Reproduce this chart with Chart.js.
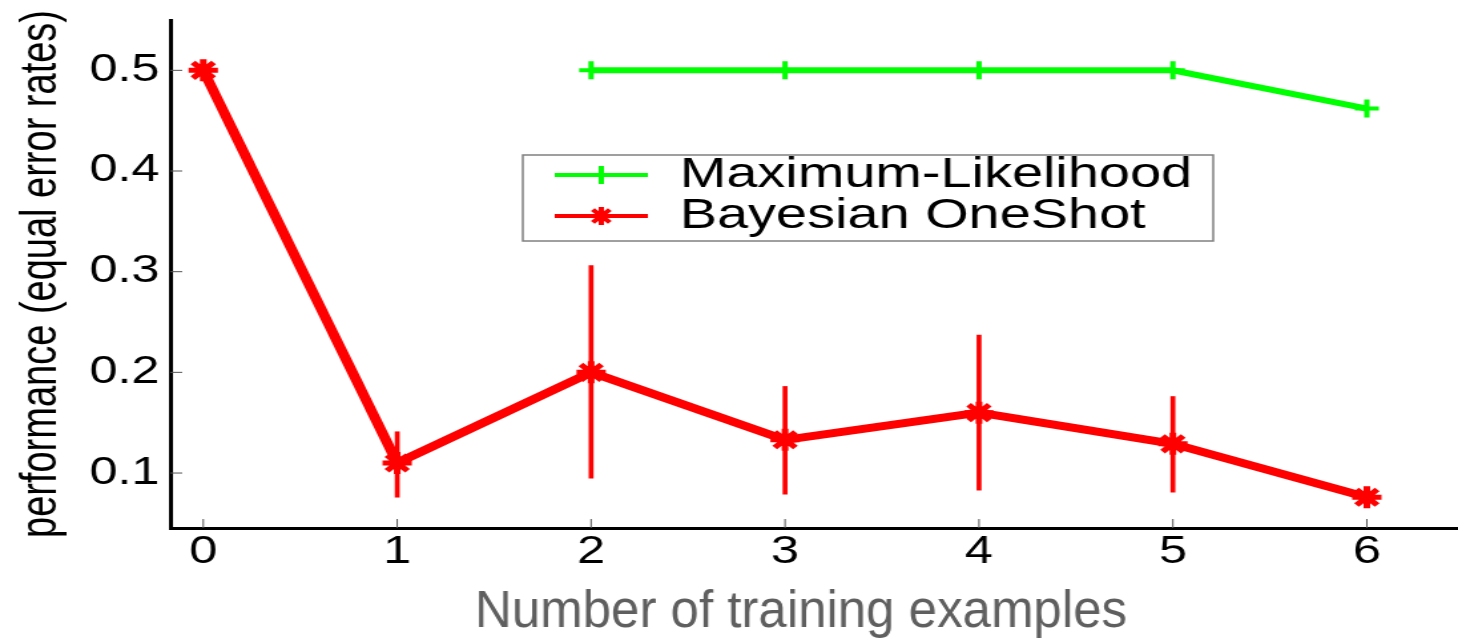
<!DOCTYPE html>
<html lang="en">
<head>
<meta charset="utf-8">
<title>Number of training examples</title>
<script src="https://cdn.jsdelivr.net/npm/chart.js@4/dist/chart.umd.min.js"></script>
<style>
    html, body { margin: 0; padding: 0; background: #ffffff; }
    /* Chart.js writes an inline size, so force the sideways stretch */
    #perfChart { display: block; width: 1458px !important; height: 640px !important; }
</style>
</head>
<body>
<canvas id="perfChart" width="1096" height="640"></canvas>
<script>
// values
const trainingExamples = [0, 1, 2, 3, 4, 5, 6];
const maxLikelihood = [null, null, 0.5, 0.5, 0.5, 0.5, 0.462];
const bayesianOneShot = [0.5, 0.11, 0.2, 0.133, 0.16, 0.129, 0.076];
const bayesianLow = [null, 0.076, 0.095, 0.079, 0.083, 0.081, null];
const bayesianHigh = [null, 0.141, 0.306, 0.186, 0.237, 0.176, null];
const xTicks = [0, 1, 2, 3, 4, 5, 6];
const yTicks = [0.1, 0.2, 0.3, 0.4, 0.5];

const seriesNames = ['Maximum-Likelihood', 'Bayesian OneShot'];
const xTitle = 'Number of training examples';
const yTitle = 'performance (equal error rates)';

// the old figure is stretched sideways: draw narrow, widen with CSS
const STRETCH = 1458 / 1096;
const FONT = '"Liberation Sans", Arial, Helvetica, sans-serif';

document.addEventListener('DOMContentLoaded', function() {
    renderChart();
});

function toPoints(values) {
    return trainingExamples
        .map((x, i) => ({ x: x, y: values[i] }))
        .filter(p => p.y !== null);
}

function toErrorBars(low, high) {
    return trainingExamples
        .map((x, i) => ({ x: x, y: [low[i], high[i]] }))
        .filter(p => p.y[0] !== null);
}

/**
 * white page behind everything
 */
const whiteBackground = {
    id: 'whiteBackground',
    beforeDraw(chart) {
        const ctx = chart.ctx;
        ctx.save();
        ctx.fillStyle = '#ffffff';
        ctx.fillRect(0, 0, chart.width, chart.height);
        ctx.restore();
    }
};

/**
 * small tick marks pointing into the plot
 */
const innerTicks = {
    id: 'innerTicks',
    afterDatasetsDraw(chart) {
        const ctx = chart.ctx;
        const area = chart.chartArea;
        const x = chart.scales.x;
        const y = chart.scales.y;
        ctx.save();
        ctx.strokeStyle = '#555555';
        ctx.lineWidth = 1;
        ctx.beginPath();
        yTicks.forEach(v => {
            const py = y.getPixelForValue(v);
            ctx.moveTo(area.left, py);
            ctx.lineTo(area.left + 9, py);
        });
        xTicks.forEach(v => {
            const px = x.getPixelForValue(v);
            ctx.moveTo(px, area.bottom);
            ctx.lineTo(px, area.bottom - 9);
        });
        ctx.stroke();
        ctx.restore();
    }
};

/**
 * boxed legend inside the plot, like the original
 */
const figureLegend = {
    id: 'figureLegend',
    afterDraw(chart) {
        const ctx = chart.ctx;
        const box = { left: 393, top: 155, width: 519, height: 86 };
        const rows = [175, 216];

        ctx.save();
        ctx.fillStyle = '#ffffff';
        ctx.fillRect(box.left, box.top, box.width, box.height);
        ctx.strokeStyle = '#808080';
        ctx.lineWidth = 1.5;
        ctx.strokeRect(box.left, box.top, box.width, box.height);

        chart.data.datasets
            .filter(ds => !ds.isErrorBar)
            .forEach((ds, i) => {
                const cy = rows[i];
                ctx.strokeStyle = ds.borderColor;
                ctx.fillStyle = ds.borderColor;
                ctx.lineWidth = 4;
                ctx.beginPath();
                ctx.moveTo(417, cy);
                ctx.lineTo(487, cy);
                ctx.stroke();

                Chart.helpers.drawPoint(ctx, {
                    pointStyle: ds.pointStyle,
                    radius: 9,
                    rotation: 0,
                    borderWidth: 4
                }, 452, cy);

                ctx.fillStyle = '#000000';
                ctx.font = '42px ' + FONT;
                ctx.textAlign = 'left';
                ctx.textBaseline = 'middle';
                ctx.fillText(ds.label, 511, cy);
            });
        ctx.restore();
    }
};

/**
 * x title was added later without the stretch, so undo it here
 */
const plainXTitle = {
    id: 'plainXTitle',
    afterDraw(chart) {
        const ctx = chart.ctx;
        ctx.save();
        ctx.scale(1 / STRETCH, 1);
        ctx.fillStyle = '#5f5f5f';
        ctx.font = '51px ' + FONT;
        ctx.textAlign = 'center';
        ctx.textBaseline = 'alphabetic';
        ctx.fillText(xTitle, 801, 627);
        ctx.restore();
    }
};

function renderChart() {
    const canvas = document.getElementById('perfChart');

    new Chart(canvas, {
        type: 'line',
        data: {
            datasets: [
                {
                    type: 'line',
                    label: seriesNames[0],
                    data: toPoints(maxLikelihood),
                    borderColor: '#00ff00',
                    backgroundColor: '#00ff00',
                    borderWidth: 6,
                    tension: 0,
                    pointStyle: 'cross',
                    pointRadius: 9,
                    pointBorderWidth: 4,
                    pointBorderColor: '#00ff00',
                    order: 1
                },
                {
                    type: 'line',
                    label: seriesNames[1],
                    data: toPoints(bayesianOneShot),
                    borderColor: '#ff0000',
                    backgroundColor: '#ff0000',
                    borderWidth: 8,
                    tension: 0,
                    pointStyle: 'star',
                    pointRadius: 11,
                    pointBorderWidth: 5,
                    pointBorderColor: '#ff0000',
                    order: 0
                },
                {
                    type: 'bar',
                    label: 'error',
                    isErrorBar: true,
                    data: toErrorBars(bayesianLow, bayesianHigh),
                    backgroundColor: '#ff0000',
                    borderWidth: 0,
                    barThickness: 3,
                    order: 2
                }
            ]
        },
        options: {
            responsive: false,
            animation: false,
            devicePixelRatio: 1,
            layout: {
                autoPadding: false,
                padding: { top: 20, left: 0, right: 0, bottom: 0 }
            },
            plugins: {
                legend: { display: false },
                tooltip: { enabled: false }
            },
            scales: {
                x: {
                    type: 'linear',
                    min: -0.17,
                    max: 6.47,
                    offset: false,
                    grid: { display: false, drawTicks: false },
                    border: { display: true, color: '#000000', width: 3 },
                    ticks: {
                        color: '#000000',
                        padding: 2,
                        font: { family: FONT, size: 38 }
                    },
                    afterBuildTicks: scale => {
                        scale.ticks = xTicks.map(v => ({ value: v }));
                    },
                    afterFit: scale => {
                        scale.height = 112;
                        scale.paddingLeft = 0;
                        scale.paddingRight = 0;
                    }
                },
                y: {
                    type: 'linear',
                    min: 0.0454,
                    max: 0.55,
                    grid: { display: false, drawTicks: false },
                    border: { display: true, color: '#000000', width: 3 },
                    ticks: {
                        color: '#000000',
                        padding: 8,
                        font: { family: FONT, size: 38 },
                        callback: v => v.toFixed(1)
                    },
                    title: {
                        display: true,
                        text: yTitle,
                        color: '#000000',
                        font: { family: FONT, size: 38 },
                        padding: { top: 9, bottom: 0 }
                    },
                    afterBuildTicks: scale => {
                        scale.ticks = yTicks.map(v => ({ value: v }));
                    },
                    afterFit: scale => {
                        scale.width = 128;
                        scale.paddingTop = 0;
                        scale.paddingBottom = 0;
                    }
                }
            }
        },
        plugins: [whiteBackground, innerTicks, figureLegend, plainXTitle]
    });
}
</script>
</body>
</html>
